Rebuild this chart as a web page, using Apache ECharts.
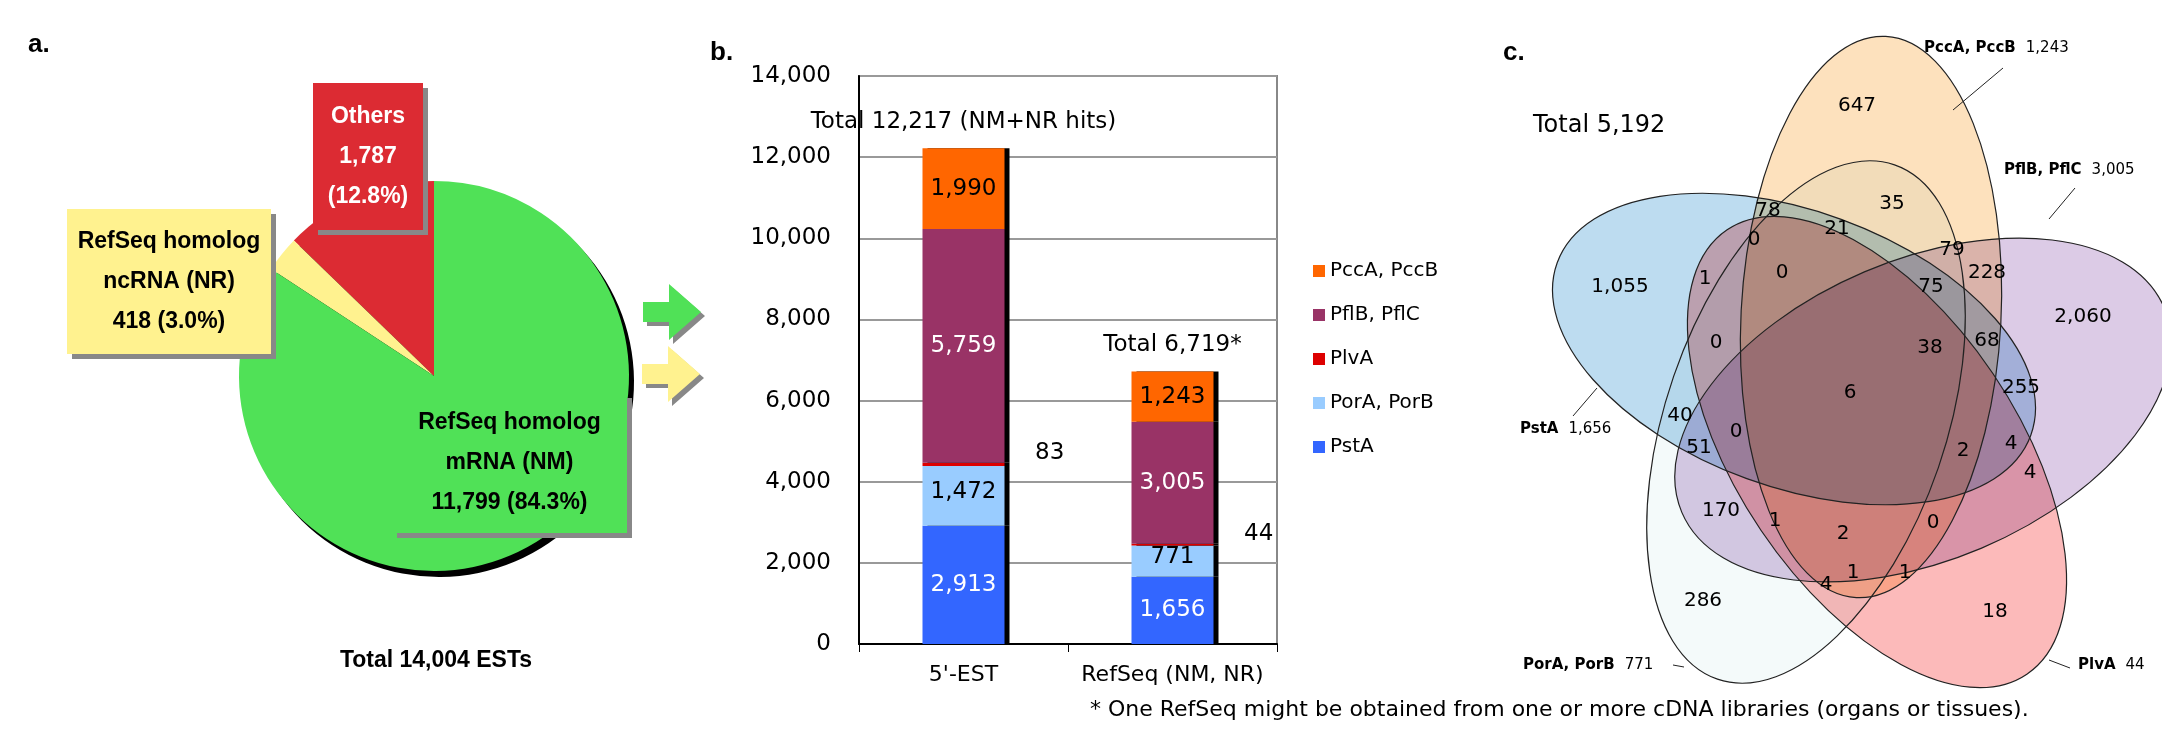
<!DOCTYPE html>
<html>
<head>
<meta charset="utf-8">
<script src="https://cdn.jsdelivr.net/npm/echarts@6/dist/echarts.min.js"></script>
<style>
  html, body { margin: 0; padding: 0; background: #fff; }
  #chart { width: 2162px; height: 756px; }
</style>
</head>
<body>
<div id="chart"></div>
<script>
// panel a: EST classification
const pieNames = ['Others', 'RefSeq homolog ncRNA (NR)', 'RefSeq homolog mRNA (NM)'];
const pieValues = [1787, 418, 11799];
const piePercents = ['12.8%', '3.0%', '84.3%'];
const pieColors = ['#dc2b33', '#fff28f', '#50e157'];

// panel b: stacked bars
const barCategories = ["5'-EST", 'RefSeq (NM, NR)'];
const groupNames = ['PstA', 'PorA, PorB', 'PlvA', 'PflB, PflC', 'PccA, PccB'];
const groupColors = ['#3366ff', '#99ccff', '#dd0000', '#993366', '#ff6600'];
const groupLabelColors = ['#fff', '#000', '#000', '#fff', '#000'];
const estValues = [2913, 1472, 83, 5759, 1990];
const refseqValues = [1656, 771, 44, 3005, 1243];
const barTotals = [12217, 6719];
const totalLabels = ['Total 12,217 (NM+NR hits)', 'Total 6,719*'];
const yTicks = [0, 2000, 4000, 6000, 8000, 10000, 12000, 14000];

// panel c: venn
const vennSets = ['PccA, PccB', 'PflB, PflC', 'PlvA', 'PorA, PorB', 'PstA'];
const vennSetTotals = ['1,243', '3,005', '44', '771', '1,656'];
const vennRegionValues = ['647', '35', '78', '21', '0', '1', '0', '79', '228', '75', '1,055', '2,060',
  '0', '38', '68', '6', '255', '40', '51', '0', '2', '4', '4', '170', '1', '2', '0', '1', '1', '4', '286', '18'];
const vennTotal = 'Total 5,192';

// layout for venn (pixel positions, not data)
const vennRegionPos = [[1857,106],[1892,204],[1768,211],[1837,229],[1754,240],[1705,279],[1782,273],[1952,250],
  [1987,273],[1931,287],[1620,287],[2083,317],[1716,343],[1930,348],[1987,341],[1850,393],[2021,388],[1680,416],
  [1699,448],[1736,432],[1963,451],[2011,444],[2030,473],[1721,511],[1775,521],[1843,534],[1933,523],[1853,573],
  [1905,573],[1826,585],[1703,601],[1995,612]];
const ellipses = [
  { x: 1794, y: 349, rx: 252, ry: 138, rot: -20, fill: '#bddcf0' },
  { x: 1806, y: 422, rx: 140, ry: 272, rot: -19, fill: '#f4fafa' },
  { x: 1877, y: 452, rx: 140, ry: 268, rot: 34, fill: '#fcbaba' },
  { x: 1923, y: 410, rx: 262, ry: 150, rot: 23, fill: '#dccbe6' },
  { x: 1871, y: 317, rx: 130, ry: 281, rot: -3, fill: '#fde1bd' }
];
const vennNamePos = [[1924,48,2003,68,1953,110],[2004,170,2075,188,2049,219],[2078,665,2049,660,2070,668],
  [1523,665,1673,665,1684,667],[1520,429,1573,416,1597,388]];

const myChart = echarts.init(document.getElementById('chart'));

const graphics = [];
const bold = (txt, x, y, size, align) => ({
  type: 'text', x, y, z: 100,
  style: { text: txt, fontSize: size, fontWeight: 'bold', fontFamily: 'Liberation Sans', fill: '#000', textAlign: align || 'left', textVerticalAlign: 'middle' }
});
graphics.push(bold('a.', 28, 45, 26), bold('b.', 710, 53, 26), bold('c.', 1503, 53, 26));

// pie label boxes
const box = (x, y, w, h, fill, lines, color, lh) => {
  graphics.push({ type: 'rect', z: 100, shape: { x: x + 5, y: y + 5, width: w, height: h }, style: { fill: '#888' } });
  graphics.push({ type: 'rect', z: 101, shape: { x, y, width: w, height: h }, style: { fill } });
  graphics.push({
    type: 'text', z: 102, x: x + w / 2, y: y + h / 2,
    style: { text: lines.join('\n'), fontSize: 23, lineHeight: lh, fontWeight: 'bold', fontFamily: 'Liberation Sans',
      fill: color, textAlign: 'center', textVerticalAlign: 'middle' }
  });
};
box(313, 83, 110, 147, pieColors[0], ['Others', pieValues[0].toLocaleString('en-US'), '(' + piePercents[0] + ')'], '#fff', 40);
box(67, 209, 204, 145, pieColors[1], ['RefSeq homolog', 'ncRNA (NR)', pieValues[1] + ' (' + piePercents[1] + ')'], '#000', 40);
box(392, 393, 235, 140, pieColors[2], ['RefSeq homolog', 'mRNA (NM)', pieValues[2].toLocaleString('en-US') + ' (' + piePercents[2] + ')'], '#000', 40);
graphics.push(bold('Total ' + pieValues.reduce((a, b) => a + b).toLocaleString('en-US') + ' ESTs', 436, 661, 23, 'center'));

// arrows
const arrow = (x, y, fill) => {
  const pts = [[x, y + 10], [x + 26, y + 10], [x + 26, y - 8], [x + 58, y + 20], [x + 26, y + 48], [x + 26, y + 30], [x, y + 30]];
  graphics.push({ type: 'polygon', shape: { points: pts.map(p => [p[0] + 4, p[1] + 4]) }, style: { fill: '#888' } });
  graphics.push({ type: 'polygon', shape: { points: pts }, style: { fill } });
};
arrow(643, 292, pieColors[2]);
arrow(642, 354, pieColors[1]);

// venn
ellipses.forEach(e => graphics.push({
  type: 'ellipse', x: e.x, y: e.y, rotation: e.rot * Math.PI / 180,
  shape: { cx: 0, cy: 0, rx: e.rx, ry: e.ry },
  style: { fill: e.fill, blend: 'multiply' }
}));
ellipses.forEach(e => graphics.push({
  type: 'ellipse', x: e.x, y: e.y, rotation: e.rot * Math.PI / 180,
  shape: { cx: 0, cy: 0, rx: e.rx, ry: e.ry },
  style: { fill: 'none', stroke: '#222', lineWidth: 1.2 }
}));
vennRegionValues.forEach((v, i) => graphics.push({
  type: 'text', x: vennRegionPos[i][0], y: vennRegionPos[i][1],
  style: { text: v, fontSize: 20, fontFamily: 'DejaVu Sans', fill: '#000', textAlign: 'center', textVerticalAlign: 'middle' }
}));
vennSets.forEach((s, i) => {
  const p = vennNamePos[i];
  graphics.push({
    type: 'text', x: p[0], y: p[1],
    style: { text: '{b|' + s + '}   {n|' + vennSetTotals[i] + '}', textVerticalAlign: 'middle',
      rich: { b: { fontSize: 15, fontWeight: 'bold', fontFamily: 'DejaVu Sans' }, n: { fontSize: 15, fontFamily: 'DejaVu Sans' } } }
  });
  graphics.push({ type: 'line', shape: { x1: p[2], y1: p[3], x2: p[4], y2: p[5] }, style: { stroke: '#222', lineWidth: 1 } });
});
graphics.push({ type: 'text', x: 1533, y: 126, style: { text: vennTotal, fontSize: 24, fontFamily: 'DejaVu Sans', fill: '#000', textVerticalAlign: 'middle' } });
graphics.push({ type: 'text', x: 1090, y: 710, style: { text: '* One RefSeq might be obtained from one or more cDNA libraries (organs or tissues).', fontSize: 22, fontFamily: 'DejaVu Sans', fill: '#000', textVerticalAlign: 'middle' } });

const barSeries = groupNames.map((name, i) => ({
  name, type: 'bar', stack: 'all', barWidth: 82,
  data: [estValues[i], refseqValues[i]],
  itemStyle: { color: groupColors[i], shadowColor: '#000', shadowOffsetX: 5, shadowBlur: 0 },
  label: {
    show: name !== 'PlvA', position: 'inside', color: groupLabelColors[i], fontSize: 23, fontFamily: 'DejaVu Sans',
    formatter: p => p.value.toLocaleString('en-US'),
    offset: name === 'PorA, PorB' ? [0, -4] : [0, 0]
  }
}));

const plainLabel = { fontSize: 23, fontFamily: 'DejaVu Sans', color: '#000', opacity: 1 };

myChart.setOption({
  animation: false,
  graphic: graphics,
  legend: {
    data: groupNames.slice().reverse(), orient: 'vertical', left: 1308, top: 256, itemGap: 24,
    itemWidth: 12, itemHeight: 12, icon: 'rect',
    textStyle: { fontSize: 20, fontFamily: 'DejaVu Sans', color: '#000' }
  },
  grid: { left: 859, right: 885, top: 76, bottom: 112, show: true, borderColor: '#888', borderWidth: 2 },
  xAxis: {
    type: 'category', data: barCategories,
    axisLine: { lineStyle: { color: '#000', width: 2 } }, axisTick: { show: true, length: 8, lineStyle: { color: '#000' } },
    axisLabel: { interval: 0, fontSize: 22, fontFamily: 'DejaVu Sans', color: '#000', margin: 20 }
  },
  yAxis: {
    type: 'value', min: yTicks[0], max: yTicks[yTicks.length - 1], interval: 2000,
    axisLine: { show: true, lineStyle: { color: '#000', width: 2 } },
    splitLine: { lineStyle: { color: '#999', width: 2 } },
    axisLabel: { fontSize: 23, fontFamily: 'DejaVu Sans', color: '#000', margin: 28, formatter: v => v.toLocaleString('en-US') }
  },
  series: [
    {
      type: 'pie', center: [434, 376], radius: 195, startAngle: 90, clockwise: false, silent: true,
      data: pieNames.map((n, i) => ({ name: n, value: pieValues[i], itemStyle: { color: pieColors[i] } })),
      label: { show: false }, labelLine: { show: false },
      itemStyle: { shadowColor: '#000', shadowOffsetX: 5, shadowOffsetY: 6, shadowBlur: 0 }
    },
    ...barSeries,
    {
      type: 'scatter', symbolSize: 1, silent: true, itemStyle: { opacity: 0 },
      data: barTotals.map((t, i) => [i, t]),
      label: Object.assign({ show: true, position: 'top', distance: 14, formatter: p => totalLabels[p.dataIndex] }, plainLabel)
    },
    {
      type: 'scatter', symbolSize: 1, silent: true, itemStyle: { opacity: 0 },
      data: [[0, estValues[0] + estValues[1] + estValues[2]], [1, refseqValues[0] + refseqValues[1] + refseqValues[2]]],
      label: Object.assign({ show: true, position: 'right', offset: [66, -10],
        formatter: p => String(p.dataIndex === 0 ? estValues[2] : refseqValues[2]) }, plainLabel)
    }
  ]
});
</script>
</body>
</html>
